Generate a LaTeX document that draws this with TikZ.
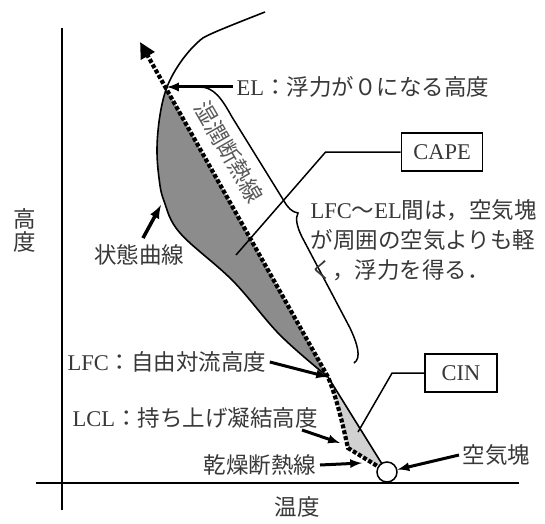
\documentclass[tikz,border=0pt]{standalone}
\usepackage{fontspec}
\setmainfont{Liberation Serif}
\newfontfamily\jp{Noto Sans CJK JP}
\usepackage{xcolor}
\usepackage{tikz}
\usetikzlibrary{calc}
\usetikzlibrary{arrows,arrows.meta}
\definecolor{capegray}{gray}{0.55}
\definecolor{cingray}{gray}{0.82}
\definecolor{txtgray}{gray}{0.22}

\begin{document}
\begin{tikzpicture}[x=1pt,y=1pt,
	font=\fontsize{22.5}{30}\selectfont,
	every node/.style={text=txtgray},
	axis/.style={line width=2pt},
	state/.style={line width=1.6pt},
	adiabat/.style={line width=4.2pt,dash pattern=on 4pt off 2pt},
	label arrow/.style={line width=3pt,-latex},
	thin line/.style={line width=1.5pt},
	textbox/.style={draw=black,line width=1.8pt,minimum height=38pt}]
					\useasboundingbox (0,0) rectangle (545,523);
					\coordinate (pc) at (387,51);
					\coordinate (lcl) at (348,75);
					\coordinate (lfc) at (328,146);
					\coordinate (el) at (167,436);
					\coordinate (tip) at (140,481);
					% axes
					\draw[axis] (62,495)--(62,13);
					\draw[axis] (36,40)--(519,40);
					% CAPE and CIN
					\begin{scope}
						\clip (lfc)--(tip)--(0,482)--(0,146)--cycle;
						\fill[capegray] plot[smooth,tension=0.6] coordinates {(265,511) (213,490) (197,480) (180,460) (167,436) (160,408) (157,375) (159,345) (164,322) (180,290) (233,242) (280,188) (328,146)}--(600,146)--(600,511)--cycle;
					\end{scope}
					\fill[cingray] (pc)--(lcl) .. controls (344,92) and (338,122) .. (lfc)--cycle;
					% state curve and adiabats
					\draw[state] plot[smooth,tension=0.6] coordinates {(265,511) (213,490) (197,480) (180,460) (167,436) (160,408) (157,375) (159,345) (164,322) (180,290) (233,242) (280,188) (328,146)}--(pc);
					\draw[adiabat,-{Triangle[length=16pt,width=15pt]}] (pc)--(lcl) .. controls (344,92) and (338,122) .. (lfc)--(tip);
					\draw[thin line] (200,436) .. controls (214,436) and (222,424) .. (232,406)--(284,322) .. controls (288,315) and (292,311) .. (298,310) .. controls (295,305) and (297,296) .. (302,286)--(350,195) .. controls (357,180) and (362,165) .. (354,160);
					\node[rotate=-60,text=black!65] (moist) at (229,371) {\jp 湿潤断熱線};
					\node[circle,draw=black,fill=white,line width=1.5pt,minimum size=20pt,inner sep=0pt] (parcel) at (pc) {};
					% labels
					\node[anchor=west] (eltext) at (233,436) {EL{\jp ：浮力が０になる高度}};
					\draw[label arrow] (eltext.west)--(el);
					\node[textbox,minimum width=81pt] (capebox) at (442,371) {CAPE};
					\coordinate (capept) at (236,268);
					\draw[thin line] (capebox.west)--++(-75,0)--(capept);
					\node[anchor=west,align=left] (lfcnote) at (307,283) {LFC{\jp ～}EL{\jp 間は，空気塊}\\{\jp が周囲の空気よりも軽}\\{\jp く，浮力を得る．}};
					\node[textbox,minimum width=72pt] (cinbox) at (461,150) {CIN};
					\coordinate (cinpt) at (358,91);
					\draw[thin line] (cinbox.west)--++(-32,0)--(cinpt);
					\node[anchor=west] (parceltext) at (459,68) {\jp 空気塊};
					\draw[label arrow] (parceltext.west)--(parcel);
					\node[anchor=east] (drytext) at (320,58) {\jp 乾燥断熱線};
					\coordinate (drytip) at (362,60);
					\draw[label arrow] (drytext.east)--(drytip);
					\node[anchor=west] (lcltext) at (69,105) {LCL{\jp ：持ち上げ凝結高度}};
					\coordinate (lclfrom) at (302,93);
					\coordinate (lcltip) at (340,80);
					\draw[label arrow] (lclfrom)--(lcltip);
					\node[anchor=west] (lfctext) at (64,161) {LFC{\jp ：自由対流高度}};
					\draw[label arrow] (lfctext.east)--(lfc);
					\node (statetext) at (139,268) {\jp 状態曲線};
					\coordinate (statetip) at (161,318);
					\draw[label arrow,line width=3.5pt] ([xshift=4pt,yshift=3pt]statetext.north)--(statetip);
					\node[align=center,font=\fontsize{22.5}{23}\selectfont] (height) at (25,293) {\jp 高\\\jp 度};
					\node (temp) at (297,16) {\jp 温度};
				\end{tikzpicture}
\end{document}
